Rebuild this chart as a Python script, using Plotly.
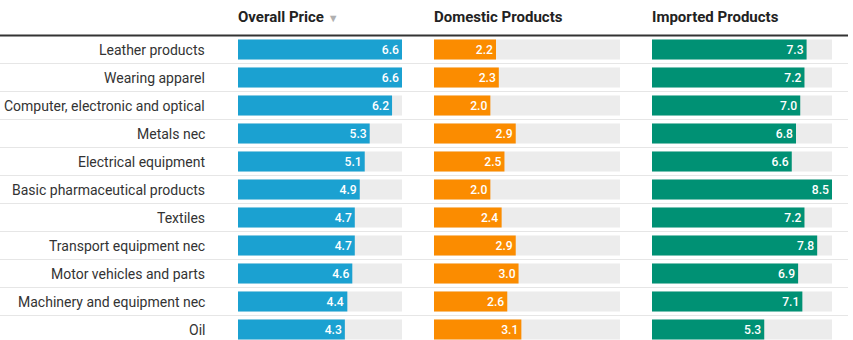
import plotly.graph_objects as go

categories = ["Leather products", "Wearing apparel", "Computer, electronic and optical",
              "Metals nec", "Electrical equipment", "Basic pharmaceutical products",
              "Textiles", "Transport equipment nec", "Motor vehicles and parts",
              "Machinery and equipment nec", "Oil"]
overall = [6.6, 6.6, 6.2, 5.3, 5.1, 4.9, 4.7, 4.7, 4.6, 4.4, 4.3]
domestic = [2.2, 2.3, 2.0, 2.9, 2.5, 2.0, 2.4, 2.9, 3.0, 2.6, 3.1]
imported = [7.3, 7.2, 7.0, 6.8, 6.6, 8.5, 7.2, 7.8, 6.9, 7.1, 5.3]
headers = ["Overall Price", "Domestic Products", "Imported Products"]

W, H = 853, 340
FONT = "Roboto"
colors = ["#1ba1d1", "#fb8c00", "#009174"]
col_max = [max(overall), 6.6, max(imported)]
domains = [(238, 402), (434, 620), (652, 832)]
series = [overall, domestic, imported]

row0 = 49.5
rowh = 28.0
yrange = [(H - row0) / rowh, -row0 / rowh]
ypos = list(range(len(categories)))

fig = go.Figure()
for k, vals in enumerate(series):
    xa = "x" if k == 0 else f"x{k+1}"
    ya = "y" if k == 0 else f"y{k+1}"
    fig.add_trace(go.Bar(
        x=[col_max[k]] * len(vals), y=ypos, orientation="h",
        marker=dict(color="#ececec", line=dict(width=0)),
        width=20 / rowh, hoverinfo="skip", xaxis=xa, yaxis=ya, showlegend=False))
    fig.add_trace(go.Bar(
        x=vals, y=ypos, orientation="h",
        marker=dict(color=colors[k], line=dict(width=0)),
        width=20 / rowh, text=[f"{v:.1f}" for v in vals],
        textposition="inside", insidetextanchor="end",
        textfont=dict(family=FONT, size=13, color="white", weight=500),
        xaxis=xa, yaxis=ya, showlegend=False))

layout = dict(
    width=W, height=H, margin=dict(l=0, r=0, t=0, b=0),
    paper_bgcolor="white", plot_bgcolor="rgba(0,0,0,0)",
    barmode="overlay", font=dict(family=FONT, color="#333"),
)
for k in range(3):
    sx = "" if k == 0 else str(k + 1)
    d0, d1 = domains[k]
    layout[f"xaxis{sx}"] = dict(domain=[d0 / W, d1 / W], range=[0, col_max[k]],
                                visible=False, fixedrange=True)
    layout[f"yaxis{sx}"] = dict(range=yrange, visible=False, fixedrange=True,
                                anchor=f"x{sx}")
fig.update_layout(**layout)

shapes = []
for i in range(len(categories) - 1):
    shapes.append(dict(type="line", xref="paper", yref="y", x0=0, x1=848 / W,
                       y0=i + 0.5, y1=i + 0.5, line=dict(color="#e6e6e6", width=1)))
shapes.append(dict(type="line", xref="paper", yref="y", x0=0, x1=848 / W,
                   y0=-0.5, y1=-0.5, line=dict(color="#333333", width=2)))

annotations = []
for i, c in enumerate(categories):
    annotations.append(dict(text=c, xref="paper", yref="y", x=207 / W, y=i,
                            xanchor="right", yanchor="middle", showarrow=False,
                            font=dict(family=FONT, size=14, color="#333")))
hy = 1 - 17 / H
for k, h in enumerate(headers):
    t = f"<b>{h}</b>"
    if k == 0:
        t += " <span style='color:#b0b0b0;font-size:11px'>▼</span>"
    annotations.append(dict(text=t, xref="paper", yref="paper", x=(domains[k][0] - 2) / W, y=hy,
                            xanchor="left", yanchor="middle", showarrow=False,
                            font=dict(family=FONT, size=15, color="#222")))
fig.update_layout(shapes=shapes, annotations=annotations)

fig.write_html("out.html")
